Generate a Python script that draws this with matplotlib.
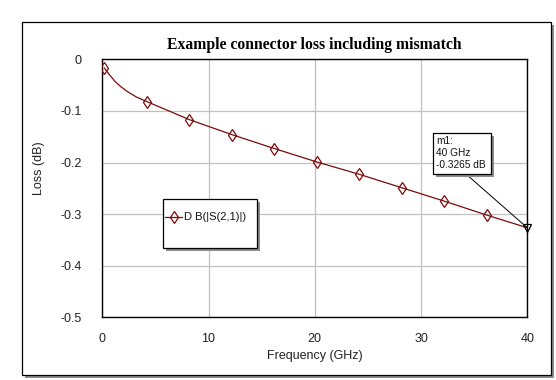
import matplotlib
matplotlib.use("Agg")
import matplotlib.pyplot as plt
from matplotlib.patches import Rectangle
from matplotlib.lines import Line2D

# values
freq_line = [0.2, 0.6, 1.2, 1.8, 2.4, 3.2, 4.2, 8.2, 12.2, 16.2, 20.2, 24.2, 28.2, 32.2, 36.2, 40.0]
loss_line = [-0.017, -0.028, -0.043, -0.054, -0.063, -0.073, -0.082, -0.117, -0.146, -0.173,
             -0.199, -0.223, -0.249, -0.275, -0.302, -0.3265]
freq_marks = [0.2, 4.2, 8.2, 12.2, 16.2, 20.2, 24.2, 28.2, 32.2, 36.2]
loss_marks = [-0.017, -0.082, -0.117, -0.146, -0.173, -0.199, -0.223, -0.249, -0.275, -0.302]
marker_freq = 40.0
marker_loss = -0.3265
x_ticks = [0, 10, 20, 30, 40]
y_ticks = [0, -0.1, -0.2, -0.3, -0.4, -0.5]
y_tick_labels = ["0", "-0.1", "-0.2", "-0.3", "-0.4", "-0.5"]

W, H = 556, 380
line_color = "#7b0a0a"


def px(x, y):
    # pixel coords (origin top-left) -> figure fraction
    return x / W, 1 - y / H


fig = plt.figure(figsize=(W / 100, H / 100), dpi=100)
fig.patch.set_facecolor("white")

# outer frame with drop shadow
fx, fy = px(25, 378)
fig.patches.append(Rectangle((fx, fy), (551 - 22) / W, (375 - 22) / H, transform=fig.transFigure,
                             facecolor="#8c8c8c", edgecolor="none", zorder=-2))
fx, fy = px(22, 375)
fig.patches.append(Rectangle((fx, fy), (551 - 22) / W, (375 - 22) / H, transform=fig.transFigure,
                             facecolor="white", edgecolor="black", linewidth=0.9, zorder=-1))

left, top = px(102.3, 59.3)
right, bottom = px(527.3, 317.3)
ax = fig.add_axes([left, bottom, right - left, top - bottom])
ax.set_zorder(1)
ax.set_facecolor("none")
ax.set_xlim(0, 40)
ax.set_ylim(-0.5, 0)
ax.set_xticks(x_ticks)
ax.set_yticks(y_ticks)
ax.set_yticklabels(y_tick_labels)
ax.tick_params(length=0, labelsize=9, labelcolor="#222222", pad=15, axis="y")
ax.tick_params(length=0, labelsize=9, labelcolor="#222222", pad=11, axis="x")
for lab in ax.get_xticklabels() + ax.get_yticklabels():
    lab.set_family("Liberation Sans")
ax.grid(True, color="#c0c0c0", linewidth=0.9)
ax.set_axisbelow(True)
for s in ax.spines.values():
    s.set_color("black")
    s.set_linewidth(1.0)

ax.plot(freq_line, loss_line, color=line_color, linewidth=0.9, zorder=3)
ax.plot(freq_marks, loss_marks, linestyle="none", marker="d", markersize=6,
        markerfacecolor="none", markeredgecolor=line_color, markeredgewidth=0.9, zorder=4)
ax.plot([marker_freq], [marker_loss], linestyle="none", marker="v", markersize=6,
        markerfacecolor="none", markeredgecolor="black", markeredgewidth=0.9, zorder=5,
        clip_on=False)

# marker readout box
bx0, by0, bx1, by1 = 433, 133, 491, 174
sx, sy = px(bx0 + 3, by1 + 3)
fig.patches.append(Rectangle((sx, sy), (bx1 - bx0) / W, (by1 - by0) / H, transform=fig.transFigure,
                             facecolor="#8c8c8c", edgecolor="none", zorder=6))
sx, sy = px(bx0, by1)
fig.patches.append(Rectangle((sx, sy), (bx1 - bx0) / W, (by1 - by0) / H, transform=fig.transFigure,
                             facecolor="white", edgecolor="black", linewidth=0.9, zorder=7))
tx, ty = px(436, 136)
fig.text(tx, ty, "m1:\n40 GHz\n-0.3265 dB", fontsize=7.3, family="Liberation Sans",
         va="top", ha="left", linespacing=1.25, zorder=8, color="#111111")
ax.annotate("", xy=(marker_freq, marker_loss), xytext=px(466, 174), textcoords="figure fraction",
            arrowprops=dict(arrowstyle="-", color="black", linewidth=0.7, shrinkA=0, shrinkB=0),
            zorder=5, annotation_clip=False)

# legend box
lx0, ly0, lx1, ly1 = 163, 199, 257, 248
sx, sy = px(lx0 + 3, ly1 + 3)
fig.patches.append(Rectangle((sx, sy), (lx1 - lx0) / W, (ly1 - ly0) / H, transform=fig.transFigure,
                             facecolor="#8c8c8c", edgecolor="none", zorder=6))
sx, sy = px(lx0, ly1)
fig.patches.append(Rectangle((sx, sy), (lx1 - lx0) / W, (ly1 - ly0) / H, transform=fig.transFigure,
                             facecolor="white", edgecolor="black", linewidth=0.9, zorder=7))
ax0, ay0 = px(165, 217)
ax1_, _ = px(182, 217)
fig.lines.append(Line2D([ax0, ax1_], [ay0, ay0], transform=fig.transFigure, color=line_color,
                        linewidth=0.9, zorder=8))
mx, _ = px(173.5, 217)
fig.lines.append(Line2D([mx], [ay0], transform=fig.transFigure, marker="d", markersize=6,
                        markerfacecolor="none", markeredgecolor=line_color, markeredgewidth=0.9,
                        zorder=8))
tx, ty = px(184, 217)
fig.text(tx, ty, "D B(|S(2,1)|)", fontsize=8, family="Liberation Sans", va="center", ha="left",
         zorder=8, color="#111111")

# titles
tx, ty = px(314, 45)
fig.text(tx, ty, "Example connector loss including mismatch", fontsize=11.3, family="Liberation Serif",
         weight="bold", ha="center", va="center")
tx, ty = px(315, 356)
fig.text(tx, ty, "Frequency (GHz)", fontsize=9, family="Liberation Sans", ha="center", va="center",
         color="#222222")
tx, ty = px(39, 168)
fig.text(tx, ty, "Loss (dB)", fontsize=9, family="Liberation Sans", ha="center", va="center",
         rotation=90, color="#222222")

fig.savefig("out.png", dpi=100)
